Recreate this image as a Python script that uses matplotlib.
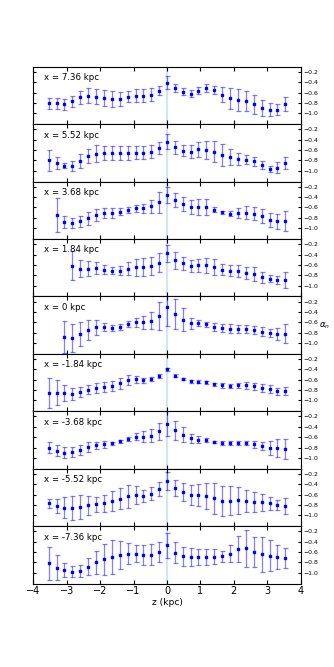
import numpy as np
import matplotlib
matplotlib.use('Agg')
import matplotlib.pyplot as plt

nan = np.nan

z = [-3.54, -3.30, -3.07, -2.83, -2.60, -2.36, -2.12, -1.89, -1.65, -1.42, -1.18,
     -0.94, -0.71, -0.47, -0.24, 0.0, 0.24, 0.47, 0.71, 0.94, 1.18, 1.42, 1.65,
     1.89, 2.12, 2.36, 2.60, 2.83, 3.07, 3.30, 3.54]

labels = ['x = 7.36 kpc', 'x = 5.52 kpc', 'x = 3.68 kpc', 'x = 1.84 kpc', 'x = 0 kpc',
          'x = -1.84 kpc', 'x = -3.68 kpc', 'x = -5.52 kpc', 'x = -7.36 kpc']

a_736 = [-0.81, -0.81, -0.83, -0.77, -0.69, -0.66, -0.68, -0.70, -0.72, -0.72, -0.68, -0.66, -0.66, -0.64, -0.56, -0.41,
         -0.51, -0.58, -0.62, -0.56, -0.51, -0.55, -0.64, -0.71, -0.74, -0.76, -0.83, -0.90, -0.93, -0.93, -0.82]
e_736 = [0.10, 0.10, 0.10, 0.11, 0.13, 0.15, 0.15, 0.15, 0.15, 0.13, 0.11, 0.12, 0.12, 0.12, 0.09, 0.13,
         0.08, 0.06, 0.07, 0.07, 0.08, 0.08, 0.14, 0.20, 0.21, 0.20, 0.19, 0.16, 0.12, 0.11, 0.14]

a_552 = [-0.80, -0.85, -0.90, -0.91, -0.81, -0.72, -0.67, -0.66, -0.66, -0.66, -0.66, -0.65, -0.65, -0.63, -0.56, -0.44,
         -0.55, -0.61, -0.63, -0.59, -0.60, -0.63, -0.69, -0.74, -0.77, -0.79, -0.82, -0.89, -0.96, -0.94, -0.85]
e_552 = [0.20, 0.12, 0.05, 0.10, 0.14, 0.13, 0.16, 0.14, 0.14, 0.14, 0.14, 0.13, 0.13, 0.12, 0.11, 0.14,
         0.13, 0.11, 0.12, 0.14, 0.18, 0.21, 0.21, 0.15, 0.12, 0.09, 0.08, 0.08, 0.06, 0.10, 0.11]

a_368 = [nan, -0.75, -0.88, -0.90, -0.87, -0.81, -0.75, -0.71, -0.71, -0.68, -0.65, -0.62, -0.62, -0.58, -0.50, -0.36,
         -0.46, -0.53, -0.59, -0.59, -0.59, -0.64, -0.69, -0.72, -0.71, -0.70, -0.72, -0.77, -0.84, -0.87, -0.86]
e_368 = [nan, 0.33, 0.12, 0.09, 0.11, 0.12, 0.12, 0.10, 0.10, 0.06, 0.05, 0.07, 0.09, 0.13, 0.20, 0.16,
         0.13, 0.13, 0.13, 0.15, 0.15, 0.05, 0.03, 0.05, 0.09, 0.12, 0.13, 0.14, 0.14, 0.14, 0.19]

a_184 = [nan, nan, nan, -0.62, -0.67, -0.67, -0.66, -0.69, -0.71, -0.71, -0.67, -0.65, -0.64, -0.62, -0.56, -0.38,
         -0.51, -0.57, -0.62, -0.61, -0.61, -0.64, -0.69, -0.71, -0.72, -0.76, -0.78, -0.84, -0.87, -0.89, -0.89]
e_184 = [nan, nan, nan, 0.28, 0.17, 0.15, 0.11, 0.09, 0.07, 0.08, 0.12, 0.16, 0.18, 0.17, 0.18, 0.17,
         0.16, 0.13, 0.12, 0.13, 0.14, 0.15, 0.10, 0.11, 0.11, 0.12, 0.13, 0.11, 0.07, 0.07, 0.16]

a_0 = [nan, nan, -0.88, -0.91, -0.83, -0.75, -0.70, -0.69, -0.71, -0.69, -0.64, -0.60, -0.60, -0.57, -0.47, -0.31,
       -0.44, -0.55, -0.62, -0.62, -0.64, -0.69, -0.71, -0.72, -0.73, -0.73, -0.75, -0.78, -0.81, -0.83, -0.82]
e_0 = [nan, nan, 0.31, 0.27, 0.23, 0.19, 0.15, 0.07, 0.05, 0.05, 0.06, 0.09, 0.12, 0.16, 0.27, 0.37,
       0.29, 0.22, 0.11, 0.06, 0.05, 0.07, 0.08, 0.08, 0.08, 0.08, 0.07, 0.08, 0.08, 0.12, 0.18]

a_m184 = [-0.85, -0.85, -0.86, -0.87, -0.84, -0.79, -0.76, -0.74, -0.72, -0.67, -0.61, -0.59, -0.61, -0.59, -0.53, -0.40,
          -0.52, -0.59, -0.63, -0.64, -0.65, -0.69, -0.71, -0.72, -0.71, -0.71, -0.73, -0.76, -0.78, -0.82, -0.82]
e_m184 = [0.29, 0.24, 0.16, 0.12, 0.10, 0.08, 0.10, 0.10, 0.10, 0.10, 0.10, 0.07, 0.05, 0.04, 0.04, 0.03,
          0.03, 0.02, 0.03, 0.03, 0.03, 0.03, 0.04, 0.04, 0.04, 0.06, 0.06, 0.07, 0.07, 0.07, 0.08]

a_m368 = [-0.80, -0.86, -0.90, -0.89, -0.85, -0.79, -0.76, -0.74, -0.72, -0.68, -0.63, -0.59, -0.59, -0.57, -0.49, -0.34,
          -0.47, -0.55, -0.62, -0.65, -0.65, -0.69, -0.71, -0.71, -0.71, -0.72, -0.74, -0.77, -0.81, -0.81, -0.83]
e_m368 = [0.11, 0.10, 0.11, 0.10, 0.10, 0.10, 0.07, 0.06, 0.03, 0.03, 0.04, 0.07, 0.10, 0.12, 0.17, 0.24,
          0.18, 0.14, 0.09, 0.07, 0.04, 0.02, 0.04, 0.04, 0.04, 0.04, 0.06, 0.08, 0.13, 0.17, 0.19]

a_m552 = [-0.77, -0.82, -0.85, -0.86, -0.84, -0.81, -0.79, -0.77, -0.72, -0.68, -0.63, -0.61, -0.63, -0.58, -0.49, -0.34,
          -0.47, -0.55, -0.61, -0.61, -0.63, -0.67, -0.72, -0.72, -0.71, -0.72, -0.74, -0.75, -0.77, -0.80, -0.82]
e_m552 = [0.09, 0.13, 0.21, 0.23, 0.23, 0.18, 0.15, 0.16, 0.19, 0.20, 0.22, 0.18, 0.12, 0.12, 0.13, 0.17,
          0.15, 0.17, 0.19, 0.21, 0.25, 0.30, 0.29, 0.28, 0.26, 0.21, 0.19, 0.17, 0.13, 0.09, 0.15]

a_m736 = [-0.82, -0.90, -0.95, -0.98, -0.97, -0.88, -0.80, -0.74, -0.70, -0.66, -0.63, -0.63, -0.66, -0.65, -0.60, -0.47,
          -0.61, -0.68, -0.70, -0.70, -0.70, -0.69, -0.68, -0.63, -0.54, -0.53, -0.59, -0.64, -0.67, -0.70, -0.71]
e_m736 = [0.32, 0.24, 0.14, 0.11, 0.12, 0.17, 0.23, 0.30, 0.33, 0.27, 0.20, 0.16, 0.19, 0.20, 0.19, 0.24,
          0.21, 0.18, 0.17, 0.15, 0.15, 0.14, 0.11, 0.17, 0.26, 0.36, 0.29, 0.34, 0.30, 0.23, 0.19]

alphas = [a_736, a_552, a_368, a_184, a_0, a_m184, a_m368, a_m552, a_m736]
errors = [e_736, e_552, e_368, e_184, e_0, e_m184, e_m368, e_m552, e_m736]

fig, axes = plt.subplots(9, 1, sharex=True, figsize=(3.34, 6.67), dpi=100)
fig.subplots_adjust(left=0.1, right=0.9, top=0.9, bottom=0.125, hspace=0)

for ax, lab, a, e in zip(axes, labels, alphas, errors):
    ax.axvline(0, color='#d4e4f2', lw=1.6, zorder=0)
    ax.errorbar(z, np.array(a, dtype=float), yerr=np.array(e, dtype=float), fmt='s',
                color='b', ms=1.6, mec='b', ecolor=(0, 0, 1, 0.5), elinewidth=0.9,
                capsize=1.8, capthick=0.9)
    ax.text(0.04, 0.81, lab, transform=ax.transAxes, va='center', fontsize=6.2)
    ax.set_xlim(-4, 4)
    ax.set_ylim(-1.21, -0.1)
    ax.set_yticks([-1.0, -0.8, -0.6, -0.4, -0.2])
    ax.yaxis.tick_right()
    ax.tick_params(axis='y', which='both', direction='in', left=True, right=True,
                   labelleft=False, labelright=True, labelsize=4.4, length=2, pad=2)
    ax.tick_params(axis='x', direction='in', top=True, bottom=True, length=3, labelsize=7, pad=2)
    for s in ax.spines.values():
        s.set_linewidth(0.8)

axes[-1].set_xticks(range(-4, 5))
axes[-1].set_xlabel('z (kpc)', fontsize=6.6, labelpad=1)
fig.text(319 / 334, 1 - 326 / 667, r'$\alpha_n$', fontsize=6.2, ha='left', va='center')

fig.savefig('out.png', dpi=100, facecolor='white')
